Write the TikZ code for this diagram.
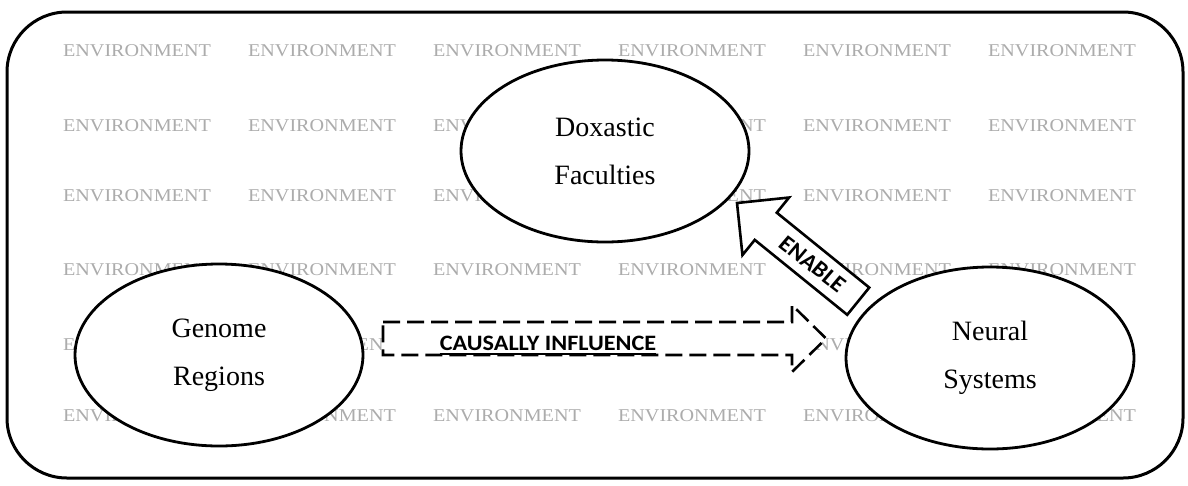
\documentclass[tikz,border=0pt]{standalone}
\usepackage{fontspec}
\setmainfont{Liberation Serif}
\newfontfamily\calib{Carlito}
\usetikzlibrary{shapes.geometric}
\begin{document}
\begin{tikzpicture}[x=1pt,y=-1pt,
  envtext/.style={text=gray!65, font=\fontsize{18}{18}\selectfont, xscale=1.12, inner sep=0pt},
  blob/.style={ellipse, draw, line width=2.8pt, fill=white, minimum width=288pt, minimum height=182pt,
    inner sep=0pt, align=center, font=\fontsize{28}{48}\selectfont},
  frame/.style={line width=3pt, rounded corners=60pt},
  dasharrow/.style={draw, fill=white, line width=2.6pt, dash pattern=on 17pt off 7pt, line join=miter},
  blockarrow/.style={draw, fill=white, line width=2.6pt, line join=miter},
  arrowlabel/.style={font=\calib\bfseries\fontsize{22}{22}\selectfont, xscale=1.1, inner sep=0pt},
  enablelabel/.style={font=\calib\bfseries\fontsize{23}{23}\selectfont, xscale=1.05, inner sep=0pt}]
\useasboundingbox (0,0) rectangle (1188,485);
\fill[white] (0,0) rectangle (1188,485);
% frame
\draw[frame] (7,12) rectangle (1183,478);
% background words
\foreach \yy [count=\j] in {51,126,196,270,416}
  \foreach \xx [count=\i] in {137,322,507,692,877,1062}
    \node[envtext] (env\i\j) at (\xx,\yy) {ENVIRONMENT};
\foreach \xx [count=\i] in {137,322,877}
  \node[envtext] (envr\i) at (\xx,345) {ENVIRONMENT};
% ellipses
\node[blob] (dox) at (605,151) {Doxastic\\Faculties};
\node[blob] (gen) at (219,355) {Genome\\Regions};
\node[blob] (neu) at (990,358) {Neural\\Systems};
% causally influence arrow
\coordinate (ctail) at (383,338.5);
\coordinate (ctip) at (826,338.5);
\path[dasharrow] ([yshift=16.5pt]ctail) -- ++(409,0) -- ++(0,-17) -- (ctip)
   -- ++(-34,33.5) -- ++(0,-17) -- ([yshift=-16.5pt]ctail) -- cycle;
\node[arrowlabel, anchor=base] (causal) at (548,350) {CAUSALLY INFLUENCE};
\draw[line width=2.2pt] ([yshift=-4pt]causal.base west) -- ([yshift=-4pt]causal.base east);
% enable arrow
\coordinate (etip) at (737,203);
\begin{scope}[shift={(etip)}, rotate=141]
  \path[blockarrow] (0,0) -- (-37,37) -- (-37,17.5) -- (-156,17.5) -- (-156,-17.5) -- (-37,-17.5) -- (-37,-37) -- cycle;
  \node[enablelabel, rotate=-39] (enable) at (-97,0) {ENABLE};
\end{scope}
\end{tikzpicture}
\end{document}
